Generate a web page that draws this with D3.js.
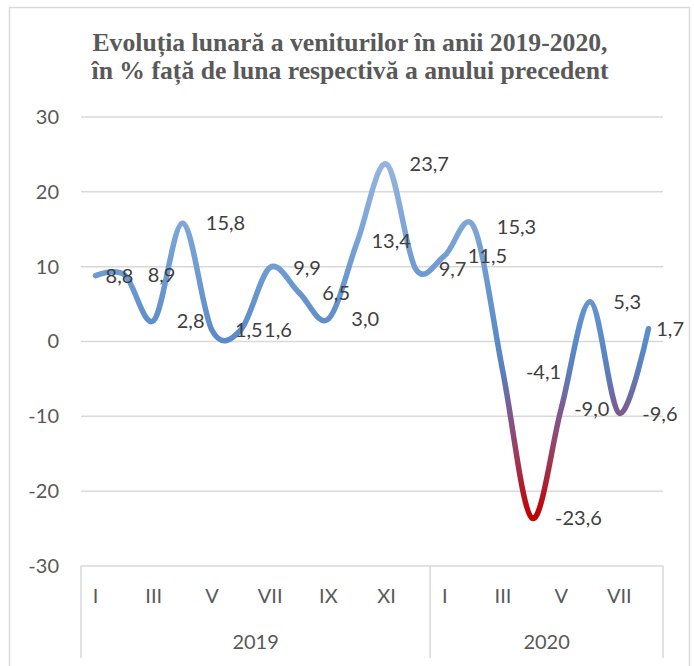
<!DOCTYPE html>
<html>

<head>
    <meta charset="UTF-8">
    <style>
        body { margin: 0; background: #fff; }
        text { font-family: Lato, "Open Sans", sans-serif; }
    </style>
</head>

<body>
    <svg></svg>
    <script src="https://d3js.org/d3.v7.min.js"></script>

    <script>

        // data
        let months2019 = ["I", "II", "III", "IV", "V", "VI", "VII", "VIII", "IX", "X", "XI", "XII"];
        let months2020 = ["I", "II", "III", "IV", "V", "VI", "VII", "VIII"];
        let values2019 = [8.8, 8.9, 2.8, 15.8, 1.5, 1.6, 9.9, 6.5, 3.0, 13.4, 23.7, 9.7];
        let values2020 = [11.5, 15.3, -4.1, -23.6, -9.0, 5.3, -9.6, 1.7];
        let years = ["2019", "2020"];
        let yTicks = [-30, -20, -10, 0, 10, 20, 30];
        let titleLines = ["Evoluția lunară a veniturilor în anii 2019-2020,",
            "în % față de luna respectivă a anului precedent"];

        let width = 694, height = 666;

        let svg = d3.select("svg")
            .attr("width", width)
            .attr("height", height)

        // one row per month, with its year
        let rows = [];
        months2019.forEach((m, i) => rows.push({ year: "2019", month: m, value: values2019[i] }));
        months2020.forEach((m, i) => rows.push({ year: "2020", month: m, value: values2020[i] }));
        rows.forEach((d, i) => d.idx = i);

        let x = d3.scaleBand()
            .domain(rows.map(d => d.idx))
            .range([81, 663]);

        let y = d3.scaleLinear()
            .domain([-30, 30])
            .range([566, 117]);

        let cx = d => x(d.idx) + x.bandwidth() / 2;
        let fmt = v => v.toFixed(1).replace(".", ",");

        // chart frame
        svg.append("rect")
            .attr("x", 9.5).attr("y", 7.5)
            .attr("width", 680).attr("height", 680)
            .attr("fill", "white")
            .attr("stroke", "#d9d9d9")
            .attr("stroke-width", 1.5);

        // title
        svg.append("g")
            .selectAll("text")
            .data(titleLines)
            .enter()
            .append("text")
            .attr("x", 350)
            .attr("y", (d, i) => 51 + i * 27.5)
            .attr("text-anchor", "middle")
            .attr("textLength", (d, i) => i == 0 ? 515 : 517)
            .attr("lengthAdjust", "spacingAndGlyphs")
            .style("font-family", "'Liberation Serif', serif")
            .style("font-weight", "bold")
            .style("font-size", "26px")
            .attr("fill", "#595959")
            .text(d => d);

        // gridlines
        svg.append("g")
            .selectAll("line")
            .data(yTicks)
            .enter()
            .append("line")
            .attr("x1", 81).attr("x2", 663)
            .attr("y1", d => y(d)).attr("y2", d => y(d))
            .attr("stroke", "#d9d9d9")
            .attr("stroke-width", 1.5);

        // y axis labels (plain hyphen for negatives, as in the original)
        let yAxis = svg.append("g")
            .attr("transform", "translate(81,0)")
            .call(d3.axisLeft(y).tickValues(yTicks).tickSize(0).tickPadding(22)
                .tickFormat(d => String(d)));
        yAxis.select(".domain").remove();
        yAxis.selectAll("text")
            .style("font-family", "Lato, sans-serif")
            .style("font-size", "20px")
            .attr("fill", "#595959");

        // category axis: month labels and year groups
        svg.append("g")
            .selectAll("text")
            .data(rows.filter(d => (d.idx % 2) == 0))
            .enter()
            .append("text")
            .attr("x", cx)
            .attr("y", 603)
            .attr("text-anchor", "middle")
            .style("font-size", "20px")
            .attr("fill", "#595959")
            .text(d => d.month);

        let groups = years.map(yr => {
            let r = rows.filter(d => d.year == yr);
            return { year: yr, x0: x(r[0].idx), x1: x(r[r.length - 1].idx) + x.bandwidth() };
        });

        let dividers = [groups[0].x0].concat(groups.map(g => g.x1));
        svg.append("g")
            .selectAll("line")
            .data(dividers)
            .enter()
            .append("line")
            .attr("x1", d => d).attr("x2", d => d)
            .attr("y1", y(-30)).attr("y2", 658)
            .attr("stroke", "#d9d9d9")
            .attr("stroke-width", 1.5);

        svg.append("g")
            .selectAll("text")
            .data(groups)
            .enter()
            .append("text")
            .attr("x", d => (d.x0 + d.x1) / 2)
            .attr("y", 649)
            .attr("text-anchor", "middle")
            .style("font-size", "20px")
            .attr("fill", "#595959")
            .text(d => d.year);

        // gradient along the value axis
        let grad = svg.append("defs")
            .append("linearGradient")
            .attr("id", "lineGrad")
            .attr("gradientUnits", "userSpaceOnUse")
            .attr("x1", 0).attr("x2", 0)
            .attr("y1", y(d3.max(rows, d => d.value)))
            .attr("y2", y(d3.min(rows, d => d.value)));

        let stops = [
            [0, "#94b4dd"],
            [0.3, "#6e9bd2"],
            [0.5, "#5a8ac8"],
            [0.585, "#5a7fbd"],
            [0.69, "#7a5d92"],
            [0.82, "#9c3b5b"],
            [1, "#c00000"]
        ];
        grad.selectAll("stop")
            .data(stops)
            .enter()
            .append("stop")
            .attr("offset", d => d[0])
            .attr("stop-color", d => d[1]);

        // smoothed line
        let line = d3.line()
            .x(cx)
            .y(d => y(d.value))
            .curve(d3.curveCardinal.tension(0));

        svg.append("path")
            .datum(rows)
            .attr("d", line)
            .attr("fill", "none")
            .attr("stroke", "url(#lineGrad)")
            .attr("stroke-width", 5.5)
            .attr("stroke-linecap", "round");

        // data labels, right of each point; a few were moved closer by hand in the original
        let labelNudge = { 0: -13, 9: -9, 16: -10 };
        let labels = svg.append("g")
            .selectAll("text")
            .data(rows)
            .enter()
            .append("text")
            .attr("x", d => cx(d) + 23 + (labelNudge[d.idx] || 0))
            .attr("y", d => y(d.value))
            .attr("dy", "0.36em")
            .style("font-size", "20px")
            .attr("fill", "#404040")
            .text(d => fmt(d.value));

        // keep labels inside the frame
        labels.each(function () {
            let w = this.getComputedTextLength();
            let lx = +d3.select(this).attr("x");
            if (lx + w > 684) d3.select(this).attr("x", 684 - w);
        });

    </script>
</body>

</html>
